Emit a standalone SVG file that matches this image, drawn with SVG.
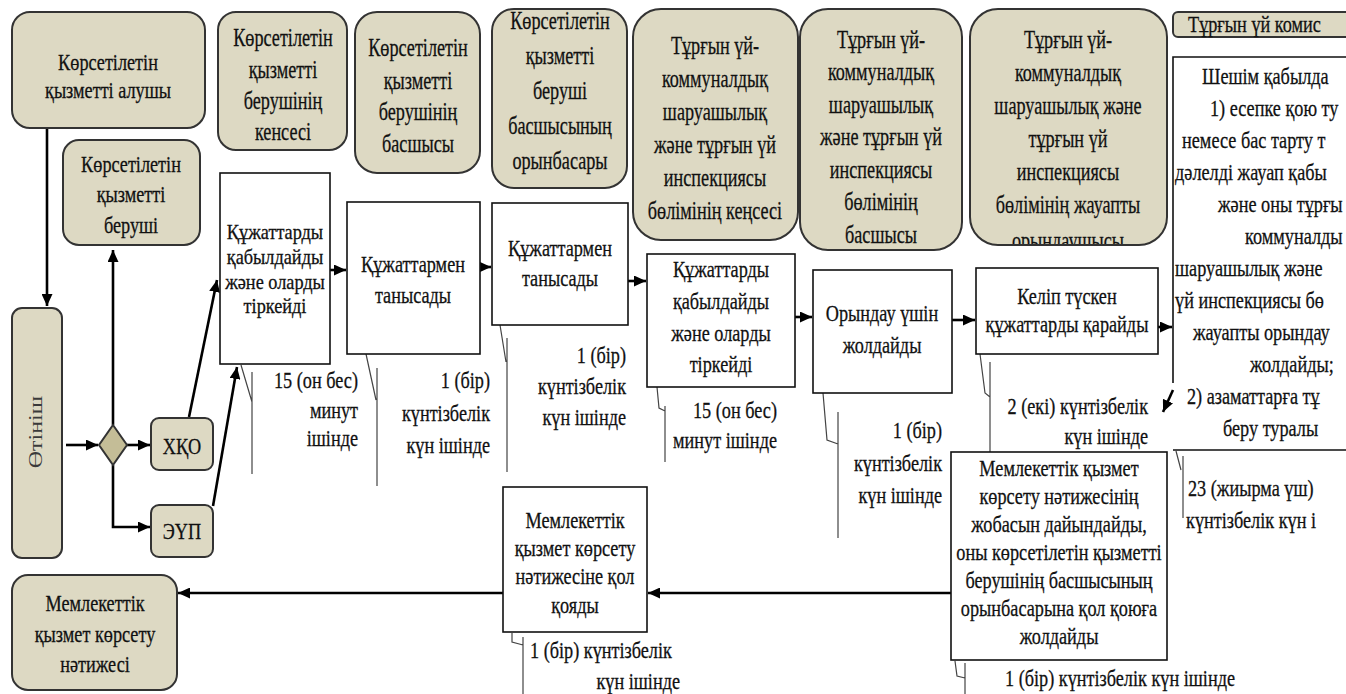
<svg xmlns="http://www.w3.org/2000/svg" width="1346" height="694" viewBox="0 0 1346 694">
<defs>
<style>
.t{font-family:"Liberation Serif","DejaVu Serif",serif;font-size:24px;fill:#111;stroke:#111;stroke-width:0.3;text-anchor:middle}
.hd{font-size:26px}
.ts{text-anchor:start}
.te{text-anchor:end}
.sm{font-size:21px}
.hb{fill:#ddd9c3;stroke:#333;stroke-width:2}
.pb{fill:#fff;stroke:#111;stroke-width:1.6}
.ar{stroke:#000;stroke-width:2.6;fill:none;marker-end:url(#ah)}
.co{stroke:#444;stroke-width:1.2;fill:none}
</style>
<marker id="ah" markerUnits="userSpaceOnUse" markerWidth="12" markerHeight="11" refX="12" refY="5.5" orient="auto">
<path d="M0,0 L12,5.5 L0,11 z" fill="#000"/>
</marker>
<clipPath id="c8"><rect x="970" y="9" width="197" height="235"/></clipPath>
</defs>
<rect width="1346" height="694" fill="#fff"/>

<g id="connectors">
<path class="ar" d="M47,128 V306"/>
<path class="ar" d="M66,445 H98"/>
<path class="ar" d="M113,425 V250"/>
<path class="ar" d="M127,445 H150"/>
<path class="ar" d="M113,465 V527 H150"/>
<path class="ar" d="M189,417 L217,280"/>
<path class="ar" d="M213,506 L237,367"/>
<path class="ar" d="M330,270 H346"/>
<path class="ar" d="M480,267 H491"/>
<path class="ar" d="M628,281 H646"/>
<path class="ar" d="M795,317 H812"/>
<path class="ar" d="M952,320 H975"/>
<path class="ar" d="M1158,327 H1172"/>
<path class="ar" d="M1173,390 L1163,412"/>
<path class="ar" d="M951,593 H648"/>
<path class="ar" d="M503,593 H178"/>
<path class="co" d="M241,365 L252,402 M252,372 V474"/>
<path class="co" d="M366,354 L376,400 M377,368 V486"/>
<path class="co" d="M500,325 L506,362 M507,338 V472"/>
<path class="co" d="M657,387 L659,408 L665,411 M665,406 V462"/>
<path class="co" d="M823,393 L827,440 L838,444 M838,412 V538"/>
<path class="co" d="M980,354 L985,393 L990,397 M990,362 V452"/>
<path class="co" d="M1176,451 L1181,470 M1183,456 V518"/>
<path class="co" d="M955,661 L957,676 L965,678 M965,663 V694"/>
<path class="co" d="M512,633 L512,642 L523,645 M523,637 V694"/>
</g>

<g id="n-alushy"><rect class="hb" x="12" y="12" width="193" height="116" rx="18"/>
<text class="t" transform="translate(108,0) scale(0.76,1)"><tspan x="0" y="70">Көрсетілетін</tspan><tspan x="0" y="98">қызметті алушы</tspan></text></g>

<g id="n-berushi"><rect class="hb" x="63" y="140" width="137" height="105" rx="16"/>
<text class="t" transform="translate(131,0) scale(0.76,1)"><tspan x="0" y="172">Көрсетілетін</tspan><tspan x="0" y="202">қызметті</tspan><tspan x="0" y="233">беруші</tspan></text></g>

<g id="n-kensesi"><rect class="hb" x="218" y="12" width="129" height="138" rx="18"/>
<text class="t hd" transform="translate(283,0) scale(0.7,1)"><tspan x="0" y="46">Көрсетілетін</tspan><tspan x="0" y="78">қызметті</tspan><tspan x="0" y="109">берушінің</tspan><tspan x="0" y="140">кенсесі</tspan></text></g>

<g id="n-basshysy"><rect class="hb" x="355" y="12" width="125" height="161" rx="22"/>
<text class="t hd" transform="translate(418,0) scale(0.7,1)"><tspan x="0" y="56">Көрсетілетін</tspan><tspan x="0" y="89">қызметті</tspan><tspan x="0" y="120">берушінің</tspan><tspan x="0" y="152">басшысы</tspan></text></g>

<g id="n-orynbasar"><rect class="hb" x="492" y="9" width="135" height="179" rx="22"/>
<text class="t hd" transform="translate(560,0) scale(0.7,1)"><tspan x="0" y="29">Көрсетілетін</tspan><tspan x="0" y="64">қызметті</tspan><tspan x="0" y="99">беруші</tspan><tspan x="0" y="134">басшысының</tspan><tspan x="0" y="169">орынбасары</tspan></text></g>

<g id="n-bolim-kensesi"><rect class="hb" x="633" y="9" width="165" height="231" rx="28"/>
<text class="t hd" transform="translate(715,0) scale(0.7,1)"><tspan x="0" y="54">Тұрғын үй-</tspan><tspan x="0" y="87">коммуналдық</tspan><tspan x="0" y="120">шаруашылық</tspan><tspan x="0" y="153">және тұрғын үй</tspan><tspan x="0" y="186">инспекциясы</tspan><tspan x="0" y="219">бөлімінің кеңсесі</tspan></text></g>

<g id="n-bolim-basshysy"><rect class="hb" x="800" y="9" width="162" height="241" rx="28"/>
<text class="t hd" transform="translate(881,0) scale(0.7,1)"><tspan x="0" y="48">Тұрғын үй-</tspan><tspan x="0" y="80">коммуналдық</tspan><tspan x="0" y="113">шаруашылық</tspan><tspan x="0" y="145">және тұрғын үй</tspan><tspan x="0" y="178">инспекциясы</tspan><tspan x="0" y="210">бөлімінің</tspan><tspan x="0" y="243">басшысы</tspan></text></g>

<g id="n-zhauapty"><rect class="hb" x="970" y="9" width="197" height="236" rx="28"/>
<g clip-path="url(#c8)"><text class="t hd" transform="translate(1068,0) scale(0.7,1)"><tspan x="0" y="48">Тұрғын үй-</tspan><tspan x="0" y="81">коммуналдық</tspan><tspan x="0" y="114">шаруашылық және</tspan><tspan x="0" y="147">тұрғын үй</tspan><tspan x="0" y="180">инспекциясы</tspan><tspan x="0" y="213">бөлімінің жауапты</tspan><tspan x="0" y="249">орындаушысы</tspan></text></g></g>

<g id="n-komissiya"><rect class="hb" x="1173" y="12" width="200" height="25" rx="5"/>
<text class="t ts" transform="translate(1188,0) scale(0.76,1)"><tspan x="0" y="32">Тұрғын үй комис</tspan></text></g>

<g id="n-otinish"><rect class="hb" x="12" y="308" width="50" height="250" rx="10"/>
<text class="t" transform="translate(37,432) rotate(-90) scale(1,0.76)" x="0" y="7" style="fill:#3a3a3a;stroke:none">Өтініш</text></g>

<g id="n-decision"><polygon points="113,425 127,445 113,465 99,445" fill="#c4bd97" stroke="#333" stroke-width="2"/></g>

<g id="n-hqo"><rect class="hb" x="151" y="418" width="62" height="52" rx="8"/>
<text class="t" transform="translate(182,0) scale(0.76,1)"><tspan x="0" y="454">ХҚО</tspan></text></g>

<g id="n-eup"><rect class="hb" x="151" y="505" width="62" height="52" rx="8"/>
<text class="t" transform="translate(182,0) scale(0.76,1)"><tspan x="0" y="539">ЭҮП</tspan></text></g>

<g id="p-a"><rect class="pb" x="220" y="173" width="110" height="191"/>
<text class="t sm" transform="translate(275,0) scale(0.87,1)"><tspan x="0" y="239">Құжаттарды</tspan><tspan x="0" y="264">қабылдайды</tspan><tspan x="0" y="289">және оларды</tspan><tspan x="0" y="313">тіркейді</tspan></text></g>

<g id="p-b"><rect class="pb" x="347" y="202" width="133" height="152"/>
<text class="t" transform="translate(413,0) scale(0.76,1)"><tspan x="0" y="272">Құжаттармен</tspan><tspan x="0" y="303">танысады</tspan></text></g>

<g id="p-c"><rect class="pb" x="492" y="203" width="136" height="122"/>
<text class="t" transform="translate(560,0) scale(0.76,1)"><tspan x="0" y="256">Құжаттармен</tspan><tspan x="0" y="286">танысады</tspan></text></g>

<g id="p-d"><rect class="pb" x="647" y="254" width="148" height="133"/>
<text class="t" transform="translate(721,0) scale(0.76,1)"><tspan x="0" y="277">Құжаттарды</tspan><tspan x="0" y="309">қабылдайды</tspan><tspan x="0" y="341">және оларды</tspan><tspan x="0" y="372">тіркейді</tspan></text></g>

<g id="p-e"><rect class="pb" x="813" y="270" width="139" height="123"/>
<text class="t" transform="translate(882,0) scale(0.76,1)"><tspan x="0" y="321">Орындау үшін</tspan><tspan x="0" y="353">жолдайды</tspan></text></g>

<g id="p-f"><rect class="pb" x="976" y="268" width="182" height="86"/>
<text class="t" transform="translate(1067,0) scale(0.76,1)"><tspan x="0" y="304">Келіп түскен</tspan><tspan x="0" y="332">құжаттарды қарайды</tspan></text></g>

<g id="p-g"><path d="M1346,57 H1173 V383 M1173,450 H1346" fill="none" stroke="#111" stroke-width="1.6"/>
<text class="t ts" transform="scale(0.76,1)">
<tspan x="1581.6" y="84">Шешім қабылда</tspan>
<tspan x="1592.1" y="116">1) есепке қою ту</tspan>
<tspan x="1555.3" y="148">немесе бас тарту т</tspan>
<tspan x="1546.1" y="180">дәлелді жауап қабы</tspan>
<tspan x="1602.6" y="212">және оны тұрғы</tspan>
<tspan x="1638.2" y="244">коммуналды</tspan>
<tspan x="1546.1" y="276">шаруашылық және</tspan>
<tspan x="1546.1" y="308">үй инспекциясы бө</tspan>
<tspan x="1569.7" y="340">жауапты орындау</tspan>
<tspan x="1644.7" y="372">жолдайды;</tspan>
<tspan x="1561.8" y="404">2) азаматтарға тұ</tspan>
<tspan x="1609.2" y="436">беру туралы</tspan>
</text></g>

<g id="p-h"><rect class="pb" x="951" y="452" width="216" height="208"/>
<text class="t" transform="translate(1059,0) scale(0.76,1)"><tspan x="0" y="476">Мемлекеттік қызмет</tspan><tspan x="0" y="504">көрсету нәтижесінің</tspan><tspan x="0" y="532">жобасын дайындайды,</tspan><tspan x="0" y="560">оны көрсетілетін қызметті</tspan><tspan x="0" y="588">берушінің басшысының</tspan><tspan x="0" y="616">орынбасарына қол қоюға</tspan><tspan x="0" y="644">жолдайды</tspan></text></g>

<g id="p-i"><rect class="pb" x="503" y="487" width="144" height="145"/>
<text class="t" transform="translate(575,0) scale(0.76,1)"><tspan x="0" y="528">Мемлекеттік</tspan><tspan x="0" y="556">қызмет көрсету</tspan><tspan x="0" y="584">нәтижесіне қол</tspan><tspan x="0" y="613">қояды</tspan></text></g>

<g id="n-result"><rect class="hb" x="12" y="575" width="165" height="115" rx="16"/>
<text class="t" transform="translate(95,0) scale(0.76,1)"><tspan x="0" y="611">Мемлекеттік</tspan><tspan x="0" y="642">қызмет көрсету</tspan><tspan x="0" y="672">нәтижесі</tspan></text></g>

<g id="labels">
<text class="t te" transform="translate(358,0) scale(0.76,1)"><tspan x="0" y="388">15 (он бес)</tspan><tspan x="0" y="418">минут</tspan><tspan x="0" y="446">ішінде</tspan></text>
<text class="t te" transform="translate(490,0) scale(0.76,1)"><tspan x="0" y="388">1 (бір)</tspan><tspan x="0" y="421">күнтізбелік</tspan><tspan x="0" y="453">күн ішінде</tspan></text>
<text class="t te" transform="translate(626,0) scale(0.76,1)"><tspan x="0" y="363">1 (бір)</tspan><tspan x="0" y="394">күнтізбелік</tspan><tspan x="0" y="425">күн ішінде</tspan></text>
<text class="t te" transform="translate(777,0) scale(0.76,1)"><tspan x="0" y="418">15 (он бес)</tspan><tspan x="0" y="448">минут ішінде</tspan></text>
<text class="t te" transform="translate(942,0) scale(0.76,1)"><tspan x="0" y="438">1 (бір)</tspan><tspan x="0" y="471">күнтізбелік</tspan><tspan x="0" y="503">күн ішінде</tspan></text>
<text class="t te" transform="translate(1148,0) scale(0.76,1)"><tspan x="0" y="414">2 (екі) күнтізбелік</tspan><tspan x="0" y="444">күн ішінде</tspan></text>
<text class="t ts" transform="translate(1188,0) scale(0.76,1)"><tspan x="0" y="496">23 (жиырма үш)</tspan><tspan x="-2.6" y="528">күнтізбелік күн і</tspan></text>
<text class="t ts" transform="translate(1005,0) scale(0.76,1)"><tspan x="0" y="686">1 (бір) күнтізбелік күн ішінде</tspan></text>
<text class="t ts" transform="translate(530,0) scale(0.76,1)"><tspan x="0" y="658">1 (бір) күнтізбелік</tspan></text>
<text class="t te" transform="translate(680,0) scale(0.76,1)"><tspan x="0" y="689">күн ішінде</tspan></text>
</g>
</svg>
